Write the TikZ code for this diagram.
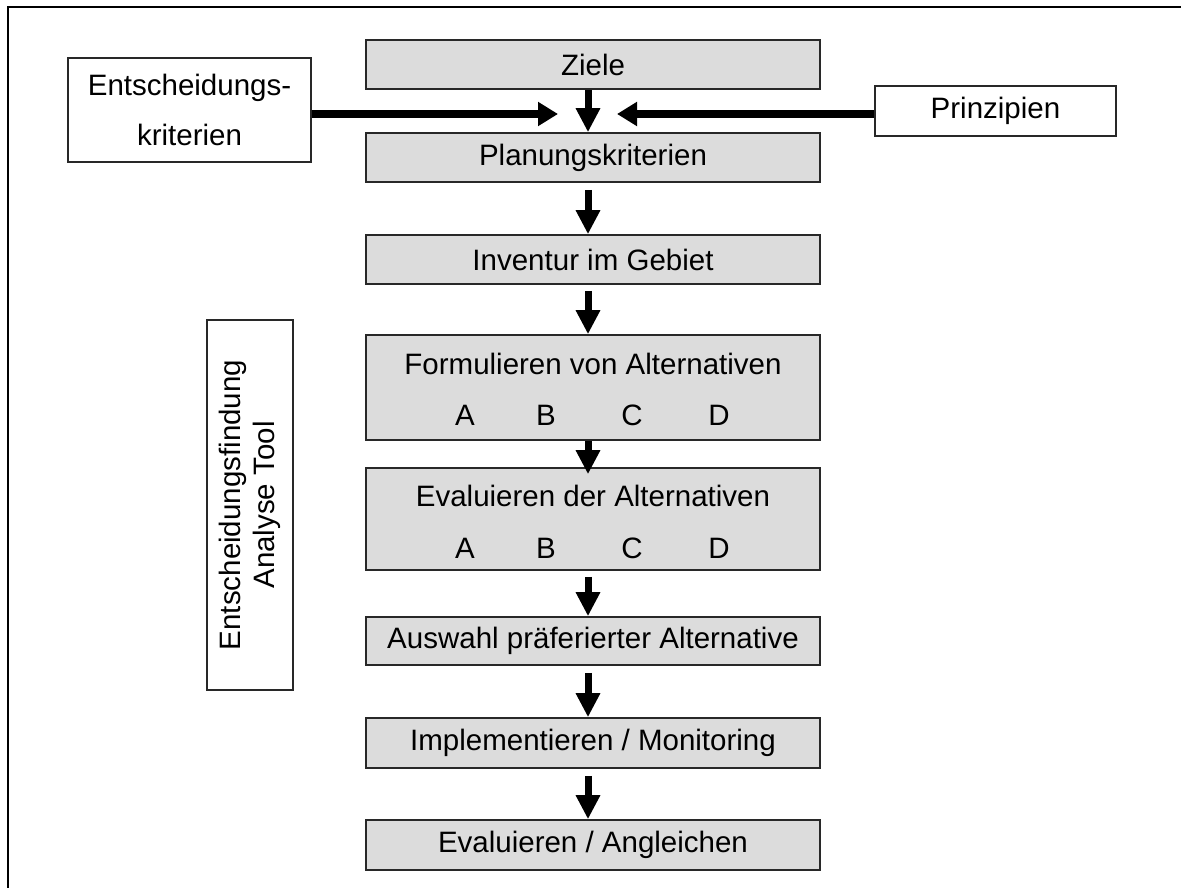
\documentclass[tikz,border=0pt]{standalone}
\usepackage{fontspec}
\setmainfont{Liberation Sans}
\usetikzlibrary{arrows.meta}
\definecolor{boxfill}{RGB}{220,220,220}
\definecolor{edge}{RGB}{40,40,40}
\begin{document}
\begin{tikzpicture}[x=1pt,y=-1pt,
  stage/.style={draw=edge, line width=1.6pt, fill=boxfill, minimum width=454pt,
    inner sep=0pt, font=\fontsize{29.5}{35}\selectfont},
  side/.style={draw=edge, line width=1.6pt, fill=white, inner sep=0pt,
    align=center, font=\fontsize{29.5}{50}\selectfont},
  lbl/.style={inner sep=0pt, font=\fontsize{29.5}{35}\selectfont},
  varrow/.style={line width=7pt, -{Triangle[width=23pt,length=24pt]}},
  harrow/.style={line width=7.5pt, -{Triangle[width=23pt,length=20pt]}}]
\useasboundingbox (0,0) rectangle (1181,888);

% open frame: top and left edges
\draw[line width=2.5pt] (8,888) -- (8,7) -- (1181,7);

% main process chain
\node[stage, minimum height=49pt] (ziele) at (593,64.5) {Ziele};
\node[stage, minimum height=49pt] (plan) at (593,157.5) {Planungskriterien};
\node[stage, minimum height=49pt] (inv) at (593,259.5) {Inventur im Gebiet};
\node[stage, minimum height=105pt] (form) at (593,387.5) {};
\node[lbl] (formT) at (593,364) {Formulieren von Alternativen};
\node[lbl] (formA) at (465,415) {A};
\node[lbl] (formB) at (546,415) {B};
\node[lbl] (formC) at (632,415) {C};
\node[lbl] (formD) at (719,415) {D};
\node[stage, minimum height=102pt] (eval) at (593,519) {};
\node[lbl] (evalT) at (593,496) {Evaluieren der Alternativen};
\node[lbl] (evalA) at (465,548) {A};
\node[lbl] (evalB) at (546,548) {B};
\node[lbl] (evalC) at (632,548) {C};
\node[lbl] (evalD) at (719,548) {D};
\node[stage, minimum height=48pt] (ausw) at (593,641) {Auswahl präferierter Alternative};
\node[stage, minimum height=50pt] (impl) at (593,743) {Implementieren / Monitoring};
\node[stage, minimum height=50pt] (angl) at (593,845) {Evaluieren / Angleichen};

% inputs on both sides
\node[side, minimum width=243pt, minimum height=104pt] (ent) at (189.5,110)
  {Entscheidungs-\\kriterien};
\node[side, minimum width=241pt, minimum height=50pt] (prin) at (995.5,111)
  {Prinzipien};
\node[side, rotate=90, minimum width=370pt, minimum height=86pt,
  font=\fontsize{29.5}{34}\selectfont] (tool) at (250,505)
  {Entscheidungsfindung\\Analyse Tool};

% converging arrows
\coordinate (tipL) at (558,114);
\coordinate (tipR) at (617,114);
\draw[harrow] (ent.east |- tipL) -- (tipL);
\draw[harrow] (prin.west |- tipR) -- (tipR);

% downward arrows
\draw[varrow] ([xshift=-5pt]ziele.south) -- ([xshift=-5pt]plan.north);
\draw[varrow] ([xshift=-5pt,yshift=-7pt]plan.south) -- ([xshift=-5pt]inv.north);
\draw[varrow] ([xshift=-5pt,yshift=-6pt]inv.south) -- ([xshift=-5pt]form.north);
\draw[varrow] ([xshift=-5pt]form.south) -- ([xshift=-5pt,yshift=-7pt]eval.north);
\draw[varrow] ([xshift=-5pt,yshift=-6pt]eval.south) -- ([xshift=-5pt]ausw.north);
\draw[varrow] ([xshift=-5pt,yshift=-7pt]ausw.south) -- ([xshift=-5pt]impl.north);
\draw[varrow] ([xshift=-5pt,yshift=-7pt]impl.south) -- ([xshift=-5pt]angl.north);
\end{tikzpicture}
\end{document}
